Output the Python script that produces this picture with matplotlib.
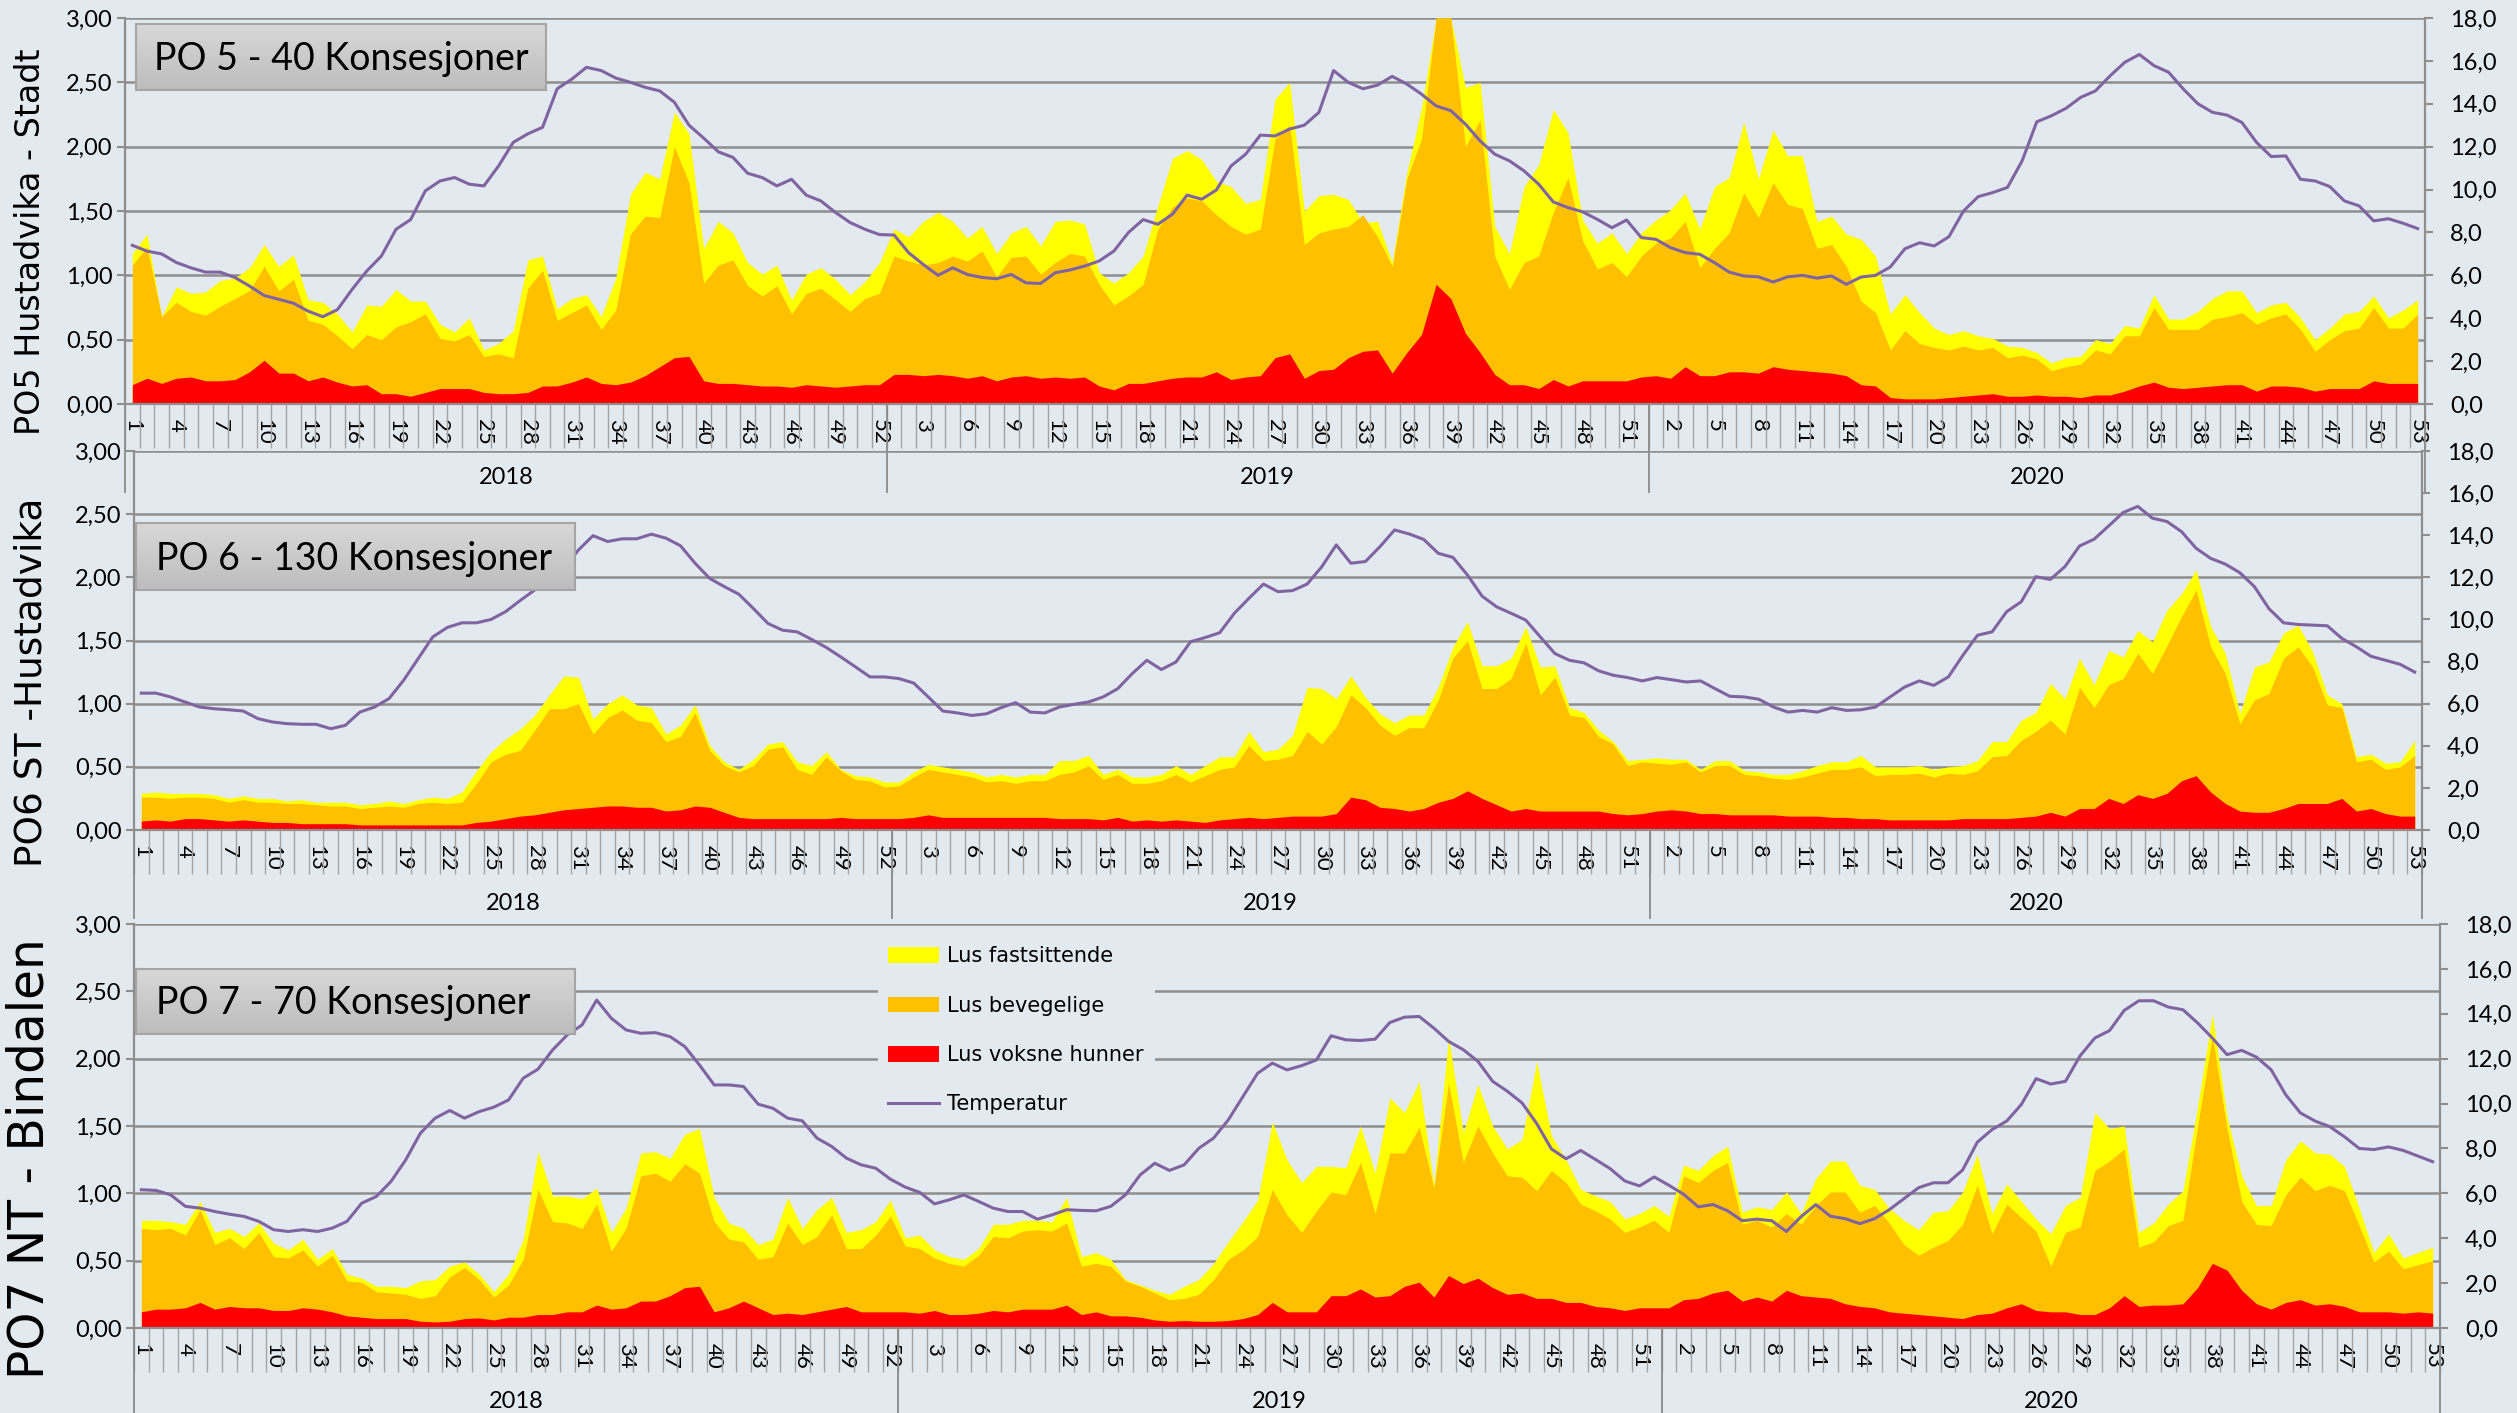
import numpy as np
import matplotlib
matplotlib.use('Agg')
import matplotlib.pyplot as plt
from matplotlib.patches import Patch, Rectangle
from matplotlib.lines import Line2D
from matplotlib.ticker import FuncFormatter, MultipleLocator
from matplotlib.colors import LinearSegmentedColormap

# uker 2018-2020 (kategoriakse)
years = ['2018', '2019', '2020']
year_len = [52, 52, 53]
weeks = list(range(1, 53)) + list(range(1, 53)) + list(range(1, 54))

# PO5 Hustadvika - Stadt
po5_fast = [
    1.17, 1.32, .68, .91, .86, .87, .96, .98, 1.06, 1.24, 1.07, 1.16, .81, .79, .70, .56, .77, .76, .89, .80,
    .80, .62, .56, .67, .42, .47, .57, 1.12, 1.15, .74, .82, .85, .68, .98, 1.63, 1.80, 1.75, 2.27, 2.10, 1.21,
    1.42, 1.33, 1.10, 1.01, 1.08, .81, 1.01, 1.06, .97, .85, .95, 1.10,
    1.36, 1.30, 1.42, 1.49, 1.42, 1.29, 1.38, 1.17, 1.33, 1.38, 1.23, 1.42, 1.43, 1.40, 1.02, .94, 1.02, 1.15, 1.54, 1.91,
    1.97, 1.90, 1.73, 1.69, 1.56, 1.59, 2.37, 2.50, 1.50, 1.62, 1.63, 1.59, 1.41, 1.42, 1.10, 1.80, 2.30, 3.0, 3.0, 2.46,
    2.50, 1.38, 1.17, 1.69, 1.86, 2.29, 2.11, 1.43, 1.25, 1.33, 1.17, 1.33,
    1.43, 1.51, 1.64, 1.36, 1.69, 1.76, 2.19, 1.75, 2.13, 1.93, 1.93, 1.42, 1.46, 1.32, 1.28, 1.15, .70, .85, .71, .59,
    .54, .57, .53, .51, .45, .44, .40, .32, .36, .37, .50, .47, .61, .59, .85, .66, .66, .72, .82, .88,
    .88, .71, .77, .79, .67, .50, .59, .70, .72, .84, .67, .73, .81]
po5_bev = [
    1.08, 1.22, .68, .79, .72, .69, .76, .82, .88, 1.07, .88, .97, .65, .62, .53, .43, .54, .50, .60, .64,
    .70, .51, .49, .54, .37, .39, .36, .90, 1.04, .65, .71, .77, .58, .73, 1.32, 1.46, 1.45, 2.00, 1.72, .94,
    1.08, 1.12, .92, .84, .92, .70, .86, .90, .81, .72, .82, .86,
    1.15, 1.11, 1.08, 1.10, 1.15, 1.11, 1.19, .99, 1.14, 1.15, 1.01, 1.10, 1.17, 1.15, .93, .77, .84, .93, 1.36, 1.53,
    1.60, 1.58, 1.47, 1.38, 1.32, 1.36, 2.06, 2.17, 1.24, 1.33, 1.36, 1.38, 1.47, 1.30, 1.07, 1.75, 2.06, 3.0, 3.0, 2.0,
    2.21, 1.15, .89, 1.10, 1.15, 1.49, 1.76, 1.27, 1.05, 1.10, .99, 1.15,
    1.25, 1.29, 1.42, 1.06, 1.21, 1.33, 1.64, 1.45, 1.72, 1.55, 1.52, 1.21, 1.24, 1.07, .80, .71, .42, .57, .47, .44,
    .42, .45, .42, .44, .36, .38, .35, .26, .29, .31, .42, .39, .53, .53, .75, .58, .58, .58, .66, .68,
    .71, .62, .67, .70, .58, .41, .50, .57, .59, .75, .59, .59, .70]
po5_hun = [
    .15, .20, .16, .20, .21, .18, .18, .19, .25, .34, .24, .24, .18, .21, .17, .14, .15, .08, .08, .06,
    .09, .12, .12, .12, .09, .08, .08, .09, .14, .14, .17, .21, .16, .15, .17, .22, .29, .36, .37, .18,
    .16, .16, .15, .14, .14, .13, .15, .14, .13, .14, .15, .15,
    .23, .23, .22, .23, .22, .20, .22, .18, .21, .22, .20, .21, .20, .21, .14, .11, .16, .16, .18, .20,
    .21, .21, .25, .19, .21, .22, .36, .39, .20, .26, .27, .36, .41, .42, .24, .40, .54, .93, .82, .55,
    .40, .23, .15, .15, .12, .19, .14, .18, .18, .18, .18, .21,
    .22, .20, .29, .22, .22, .25, .25, .24, .29, .27, .26, .25, .24, .22, .15, .14, .05, .04, .04, .04,
    .05, .06, .07, .08, .06, .06, .07, .06, .06, .05, .07, .07, .10, .14, .17, .13, .12, .13, .14, .15,
    .15, .10, .14, .14, .13, .10, .12, .12, .12, .18, .16, .16, .16]
po5_temp = [
    7.4, 7.13, 7.0, 6.6, 6.35, 6.15, 6.15, 5.9, 5.5, 5.06, 4.88, 4.7, 4.33, 4.07, 4.4, 5.34, 6.2, 6.9, 8.15, 8.6,
    9.94, 10.4, 10.56, 10.25, 10.17, 11.1, 12.2, 12.6, 12.9, 14.7, 15.15, 15.7, 15.55, 15.2, 15.0, 14.77, 14.6, 14.07, 13.0, 12.4,
    11.76, 11.5, 10.76, 10.56, 10.17, 10.48, 9.74, 9.47, 8.93, 8.46, 8.15, 7.9,
    7.88, 7.05, 6.5, 6.0, 6.35, 6.04, 5.9, 5.84, 6.04, 5.65, 5.62, 6.12, 6.25, 6.43, 6.67, 7.13, 8.0, 8.6, 8.38, 8.85,
    9.74, 9.55, 9.98, 11.1, 11.65, 12.54, 12.5, 12.82, 13.0, 13.6, 15.55, 15.0, 14.7, 14.87, 15.28, 14.92, 14.45, 13.9, 13.68, 13.05,
    12.27, 11.65, 11.34, 10.87, 10.25, 9.42, 9.16, 8.96, 8.61, 8.22, 8.58, 7.76,
    7.68, 7.29, 7.06, 6.98, 6.59, 6.15, 5.97, 5.93, 5.69, 5.93, 6.0, 5.87, 5.97, 5.58, 5.92, 6.0, 6.39, 7.24, 7.52, 7.37,
    7.8, 9.0, 9.67, 9.86, 10.1, 11.34, 13.16, 13.44, 13.79, 14.3, 14.6, 15.3, 15.93, 16.3, 15.78, 15.47, 14.69, 14.0, 13.6, 13.47,
    13.13, 12.2, 11.54, 11.57, 10.48, 10.4, 10.14, 9.47, 9.24, 8.54, 8.64, 8.43, 8.18]

# PO6 ST - Hustadvika
po6_fast = [
    .29, .30, .29, .29, .29, .28, .25, .27, .25, .25, .23, .24, .22, .22, .22, .20, .21, .23, .21, .24,
    .26, .25, .30, .47, .62, .72, .80, .91, 1.07, 1.22, 1.21, .88, 1.0, 1.07, .99, .97, .76, .83, .99, .67,
    .54, .48, .56, .68, .70, .54, .51, .62, .48, .43, .42, .38,
    .38, .46, .52, .50, .48, .46, .42, .44, .42, .44, .44, .55, .55, .59, .44, .48, .42, .42, .44, .51,
    .44, .51, .58, .58, .78, .62, .64, .75, 1.13, 1.12, 1.04, 1.22, 1.05, .92, .85, .91, .91, 1.13, 1.45, 1.65,
    1.30, 1.30, 1.36, 1.61, 1.29, 1.30, .97, .93, .79, .70, .55, .56,
    .57, .56, .56, .48, .55, .55, .47, .46, .44, .44, .47, .51, .54, .54, .59, .50, .50, .50, .51, .48,
    .50, .51, .55, .70, .70, .87, .93, 1.16, 1.04, 1.36, 1.15, 1.42, 1.37, 1.58, 1.49, 1.74, 1.87, 2.06, 1.61, 1.40,
    .92, 1.29, 1.33, 1.56, 1.62, 1.41, 1.07, 1.0, .58, .60, .53, .54, .71]
po6_bev = [
    .26, .26, .25, .26, .26, .25, .22, .24, .22, .22, .21, .21, .20, .19, .19, .17, .18, .19, .18, .21,
    .22, .21, .22, .37, .54, .60, .63, .79, .96, .96, 1.0, .76, .89, .95, .87, .85, .70, .74, .93, .63,
    .51, .46, .51, .64, .66, .48, .44, .58, .47, .40, .39, .34,
    .35, .42, .48, .46, .44, .42, .38, .39, .37, .39, .39, .44, .46, .51, .40, .44, .37, .37, .39, .44,
    .38, .43, .48, .50, .67, .55, .56, .59, .78, .68, .82, 1.07, .97, .83, .75, .81, .81, 1.03, 1.36, 1.50,
    1.12, 1.12, 1.20, 1.48, 1.07, 1.21, .91, .89, .74, .68, .51, .54,
    .53, .52, .54, .46, .51, .51, .44, .43, .41, .40, .42, .45, .48, .48, .50, .43, .44, .44, .45, .42,
    .45, .44, .47, .58, .59, .71, .78, .87, .76, 1.13, .97, 1.15, 1.20, 1.40, 1.24, 1.46, 1.69, 1.90, 1.45, 1.24,
    .84, 1.03, 1.08, 1.36, 1.45, 1.29, .99, .97, .54, .56, .48, .50, .59]
po6_hun = [
    .07, .08, .07, .09, .09, .08, .07, .08, .07, .06, .06, .05, .05, .05, .05, .04, .04, .04, .04, .04,
    .04, .04, .04, .06, .07, .09, .11, .12, .14, .16, .17, .18, .19, .19, .18, .18, .15, .16, .19, .18,
    .14, .10, .09, .09, .09, .09, .09, .09, .10, .09, .09, .09,
    .09, .10, .12, .10, .10, .10, .10, .10, .10, .10, .10, .09, .09, .09, .08, .10, .07, .08, .07, .08,
    .07, .06, .08, .09, .10, .09, .10, .11, .11, .11, .13, .26, .24, .18, .17, .15, .17, .22, .25, .31,
    .25, .20, .15, .17, .15, .15, .15, .15, .15, .13, .12, .13,
    .15, .16, .15, .13, .13, .12, .12, .12, .12, .11, .11, .11, .10, .10, .09, .09, .08, .08, .08, .08,
    .08, .09, .09, .09, .09, .10, .11, .14, .11, .17, .17, .25, .21, .28, .25, .29, .39, .43, .30, .21,
    .15, .14, .14, .17, .21, .21, .21, .25, .15, .17, .13, .11, .11]
po6_temp = [
    6.5, 6.5, 6.32, 6.08, 5.84, 5.76, 5.71, 5.65, 5.29, 5.13, 5.05, 5.02, 5.02, 4.81, 4.97, 5.6, 5.84, 6.24, 7.11, 8.14,
    9.17, 9.62, 9.84, 9.84, 10.0, 10.37, 10.9, 11.4, 11.95, 12.43, 13.3, 13.98, 13.7, 13.83, 13.83, 14.05, 13.86, 13.5, 12.67, 11.95,
    11.56, 11.2, 10.52, 9.81, 9.49, 9.41, 9.05, 8.67, 8.22, 7.75, 7.27, 7.27,
    7.19, 6.98, 6.32, 5.65, 5.56, 5.44, 5.52, 5.81, 6.05, 5.6, 5.56, 5.84, 5.97, 6.08, 6.32, 6.71, 7.43, 8.06, 7.62, 7.98,
    8.94, 9.14, 9.37, 10.29, 11.0, 11.68, 11.32, 11.37, 11.68, 12.5, 13.54, 12.67, 12.75, 13.46, 14.25, 14.06, 13.8, 13.14, 12.95, 12.11,
    11.11, 10.6, 10.29, 9.97, 9.17, 8.38, 8.06, 7.94, 7.56, 7.35, 7.24, 7.08,
    7.24, 7.14, 7.03, 7.08, 6.71, 6.35, 6.32, 6.21, 5.84, 5.6, 5.68, 5.6, 5.81, 5.68, 5.71, 5.84, 6.32, 6.79, 7.08, 6.87,
    7.27, 8.3, 9.25, 9.41, 10.37, 10.84, 12.03, 11.9, 12.51, 13.49, 13.81, 14.44, 15.08, 15.37, 14.81, 14.65, 14.17, 13.38, 12.9, 12.63,
    12.22, 11.56, 10.51, 9.84, 9.76, 9.73, 9.7, 9.1, 8.7, 8.25, 8.06, 7.87, 7.5]

# PO7 NT - Bindalen
po7_fast = [
    .80, .80, .79, .77, .94, .71, .74, .68, .78, .63, .58, .66, .51, .59, .40, .37, .31, .31, .30, .35,
    .36, .46, .49, .40, .27, .40, .66, 1.31, .98, .98, .96, 1.04, .71, .89, 1.30, 1.31, 1.26, 1.44, 1.48, .97,
    .78, .74, .62, .66, .97, .74, .88, .97, .71, .73, .79, .95,
    .67, .69, .58, .53, .51, .59, .77, .77, .80, .80, .79, .97, .53, .56, .51, .36, .32, .28, .25, .31,
    .36, .48, .64, .79, .95, 1.53, 1.25, 1.08, 1.20, 1.20, 1.19, 1.50, 1.15, 1.71, 1.60, 1.83, 1.06, 2.16, 1.45, 1.81,
    1.50, 1.33, 1.40, 1.98, 1.43, 1.25, 1.03, .98, .94, .81, .85, .91,
    .83, 1.21, 1.17, 1.28, 1.35, .86, .90, .88, 1.01, .85, 1.11, 1.24, 1.24, 1.06, 1.03, .89, .80, .73, .86, .87,
    1.01, 1.29, .85, 1.07, .94, .81, .70, .91, .97, 1.60, 1.48, 1.50, .71, .78, .92, 1.02, 1.65, 2.33, 1.57, 1.13,
    .91, .91, 1.25, 1.39, 1.30, 1.29, 1.20, .89, .56, .70, .52, .56, .60]
po7_bev = [
    .74, .73, .74, .69, .88, .62, .67, .59, .71, .53, .52, .58, .46, .54, .35, .34, .27, .26, .25, .22,
    .24, .38, .45, .36, .23, .32, .51, 1.03, .79, .78, .74, .92, .57, .74, 1.13, 1.15, 1.09, 1.22, 1.15, .79,
    .66, .64, .51, .53, .78, .62, .68, .84, .59, .59, .69, .83,
    .61, .59, .52, .48, .46, .54, .68, .67, .72, .73, .72, .78, .46, .48, .46, .35, .31, .26, .21, .22,
    .25, .36, .51, .58, .68, 1.03, .84, .71, .87, 1.01, .99, 1.23, .85, 1.30, 1.30, 1.49, 1.04, 1.82, 1.23, 1.50,
    1.30, 1.13, 1.12, 1.02, 1.17, 1.08, .92, .87, .81, .71, .75, .80,
    .71, 1.13, 1.08, 1.17, 1.23, .77, .80, .75, .85, .77, .91, 1.01, 1.01, .86, .91, .78, .62, .54, .60, .65,
    .77, 1.06, .70, .92, .82, .72, .46, .71, .75, 1.17, 1.24, 1.33, .60, .64, .76, .80, 1.50, 2.17, 1.48, .94,
    .77, .76, .99, 1.12, 1.02, 1.06, 1.02, .76, .49, .57, .44, .47, .50]
po7_hun = [
    .12, .14, .14, .15, .19, .14, .16, .15, .15, .13, .13, .15, .14, .12, .09, .08, .07, .07, .07, .05,
    .045, .05, .07, .075, .06, .08, .08, .10, .10, .12, .12, .17, .14, .15, .20, .20, .24, .30, .31, .12,
    .15, .20, .15, .10, .11, .10, .12, .14, .16, .12, .12, .12,
    .12, .11, .13, .10, .10, .11, .13, .12, .14, .14, .14, .17, .10, .12, .09, .09, .08, .06, .05, .055,
    .05, .05, .055, .07, .10, .19, .12, .12, .12, .24, .24, .29, .23, .24, .31, .34, .23, .39, .33, .37,
    .30, .25, .26, .22, .22, .19, .19, .16, .15, .13, .15, .15,
    .15, .21, .22, .26, .28, .20, .23, .20, .28, .24, .23, .22, .18, .16, .15, .12, .11, .10, .09, .08,
    .07, .10, .11, .15, .18, .13, .12, .12, .10, .10, .15, .24, .16, .17, .17, .18, .30, .48, .43, .28,
    .18, .14, .19, .21, .17, .18, .16, .12, .12, .12, .11, .12, .11]
po7_temp = [
    6.16, 6.13, 5.93, 5.42, 5.34, 5.19, 5.07, 4.97, 4.75, 4.38, 4.30, 4.38, 4.30, 4.45, 4.75, 5.56, 5.86, 6.53, 7.49, 8.68,
    9.35, 9.69, 9.35, 9.64, 9.84, 10.16, 11.13, 11.53, 12.39, 13.06, 13.5, 14.61, 13.8, 13.28, 13.13, 13.16, 12.98, 12.54, 11.72, 10.83,
    10.83, 10.76, 9.97, 9.79, 9.35, 9.23, 8.46, 8.09, 7.57, 7.27, 7.12, 6.63,
    6.28, 6.04, 5.53, 5.71, 5.93, 5.64, 5.34, 5.19, 5.19, 4.85, 5.04, 5.27, 5.24, 5.22, 5.42, 5.93, 6.82, 7.34, 7.02, 7.27,
    8.01, 8.46, 9.27, 10.31, 11.35, 11.8, 11.5, 11.69, 11.94, 13.02, 12.84, 12.81, 12.87, 13.61, 13.85, 13.88, 13.36, 12.77, 12.4, 11.88,
    10.99, 10.55, 10.03, 9.11, 7.98, 7.54, 7.91, 7.51, 7.10, 6.55, 6.33, 6.73,
    6.36, 5.96, 5.4, 5.5, 5.22, 4.78, 4.85, 4.78, 4.3, 4.96, 5.5, 4.98, 4.87, 4.65, 4.87, 5.27, 5.76, 6.25, 6.47, 6.47,
    7.04, 8.28, 8.84, 9.22, 9.96, 11.11, 10.87, 10.99, 12.13, 12.92, 13.25, 14.15, 14.58, 14.58, 14.3, 14.18, 13.59, 12.92, 12.18, 12.37,
    12.07, 11.51, 10.39, 9.58, 9.22, 8.97, 8.52, 8.0, 7.95, 8.07, 7.91, 7.66, 7.41]

series_names = ['Lus fastsittende', 'Lus bevegelige', 'Lus voksne hunner', 'Temperatur']

W, H = 2517, 1413
BG = '#E3EAEF'
GRID = '#8E8E8E'
C_FAST, C_BEV, C_HUN, C_TEMP = '#FFFF00', '#FFC000', '#FF0000', '#8064A2'

plt.rcParams['font.family'] = ['Lato', 'DejaVu Sans']

fig = plt.figure(figsize=(W / 100, H / 100), dpi=100, facecolor=BG)


def fbox(l, t, r, b):
    return [l / W, 1 - b / H, (r - l) / W, (b - t) / H]


grad_cmap = LinearSegmentedColormap.from_list('box', ['#D8D8D8', '#BDBDBD'])


def panel(rect, fast, bev, hun, temp, ylabel, ylab_pos, ylab_size, title, title_rect):
    l, t, r, b = rect
    hpx = b - t
    ax = fig.add_axes(fbox(*rect))
    ax.set_facecolor('none')
    x = np.arange(len(weeks))
    ax.fill_between(x, 0, fast, color=C_FAST, lw=0)
    ax.fill_between(x, 0, bev, color=C_BEV, lw=0)
    ax.fill_between(x, 0, hun, color=C_HUN, lw=0)
    ax.set_xlim(-0.5, len(x) - 0.5)
    ax.set_ylim(0, 3)
    ax.yaxis.set_major_locator(MultipleLocator(0.5))
    ax.yaxis.set_major_formatter(FuncFormatter(lambda v, p: f'{v:.2f}'.replace('.', ',')))
    ax.grid(axis='y', color=GRID, lw=1.8)
    ax.set_axisbelow(True)
    for s in ['top', 'right']:
        ax.spines[s].set_visible(False)
    for s in ['left', 'bottom']:
        ax.spines[s].set_color(GRID)
        ax.spines[s].set_linewidth(1.6)
    ax.tick_params(axis='y', length=6, width=1.5, color=GRID, labelsize=17, pad=3)

    # kategoriakse: uker + år
    ax.set_xticks(x[::3])
    ax.set_xticklabels([str(weeks[i]) for i in x[::3]], rotation=270, fontsize=16)
    ax.set_xticks(np.arange(-0.5, len(x), 1), minor=True)
    ax.tick_params(axis='x', which='major', length=0, pad=11)
    ax.tick_params(axis='x', which='minor', length=32, width=1.0, color='#A3A3A3')
    trans = ax.get_xaxis_transform()
    start = -0.5
    bounds = [start]
    for yr, n in zip(years, year_len):
        ax.text(start + n / 2, -73 / hpx, yr, transform=trans, ha='center', va='center', fontsize=17)
        start += n
        bounds.append(start)
    for bd in bounds:
        ax.plot([bd, bd], [0, -88 / hpx], transform=trans, color='#8A8A8A', lw=1.3, clip_on=False)

    ax2 = ax.twinx()
    ax2.plot(x, temp, color=C_TEMP, lw=2.2)
    ax2.set_ylim(0, 18)
    ax2.yaxis.set_major_locator(MultipleLocator(2))
    ax2.yaxis.set_major_formatter(FuncFormatter(lambda v, p: f'{v:.1f}'.replace('.', ',')))
    for s in ['top', 'left', 'bottom']:
        ax2.spines[s].set_visible(False)
    ax2.spines['right'].set_color(GRID)
    ax2.spines['right'].set_linewidth(1.6)
    ax2.tick_params(axis='y', length=6, width=1.5, color=GRID, labelsize=17, pad=12)

    fig.text(ylab_pos[0] / W, 1 - ylab_pos[1] / H, ylabel, rotation=90, ha='center', va='center',
             fontsize=ylab_size, family='DejaVu Sans')

    tax = fig.add_axes(fbox(*title_rect))
    tax.imshow(np.linspace(0, 1, 64).reshape(-1, 1), cmap=grad_cmap, aspect='auto', extent=[0, 1, 0, 1])
    tax.set_xticks([])
    tax.set_yticks([])
    for s in tax.spines.values():
        s.set_color('#A5A5A5')
        s.set_linewidth(1.5)
    tax.text(0.045, 0.47, title, transform=tax.transAxes, va='center', ha='left', fontsize=27)
    return ax, ax2


panel((125, 18, 2425, 404), po5_fast, po5_bev, po5_hun, po5_temp,
      'PO5 Hustadvika - Stadt', (31, 242), 24, 'PO 5 - 40 Konsesjoner', (136, 24, 546, 90))
panel((134, 451, 2422, 830), po6_fast, po6_bev, po6_hun, po6_temp,
      'PO6 ST -Hustadvika', (32, 682), 27, 'PO 6 - 130 Konsesjoner', (136, 523, 575, 590))
ax, ax2 = panel((134, 924, 2440, 1328), po7_fast, po7_bev, po7_hun, po7_temp,
                'PO7 NT - Bindalen', (30, 1159), 35, 'PO 7 - 70 Konsesjoner', (136, 969, 575, 1034))

# forklaring (dekker rutenettet)
ax2.add_patch(Rectangle((878 / W, 1 - 1120 / H), (1155 - 878) / W, (1120 - 938) / H,
                        transform=fig.transFigure, facecolor=BG, edgecolor='none', clip_on=False, zorder=1))
handles = [Patch(facecolor=C_FAST), Patch(facecolor=C_BEV), Patch(facecolor=C_HUN),
           Line2D([], [], color=C_TEMP, lw=2.2)]
ax2.legend(handles, series_names, loc='upper left', bbox_to_anchor=(880 / W, 1 - 938 / H),
           bbox_transform=fig.transFigure, frameon=False, prop={'family': 'DejaVu Sans', 'size': 15},
           handlelength=2.45, handleheight=0.77, handletextpad=0.35, labelspacing=1.41,
           borderpad=0.4, borderaxespad=0)

fig.savefig('out.png', dpi=100, facecolor=BG)
